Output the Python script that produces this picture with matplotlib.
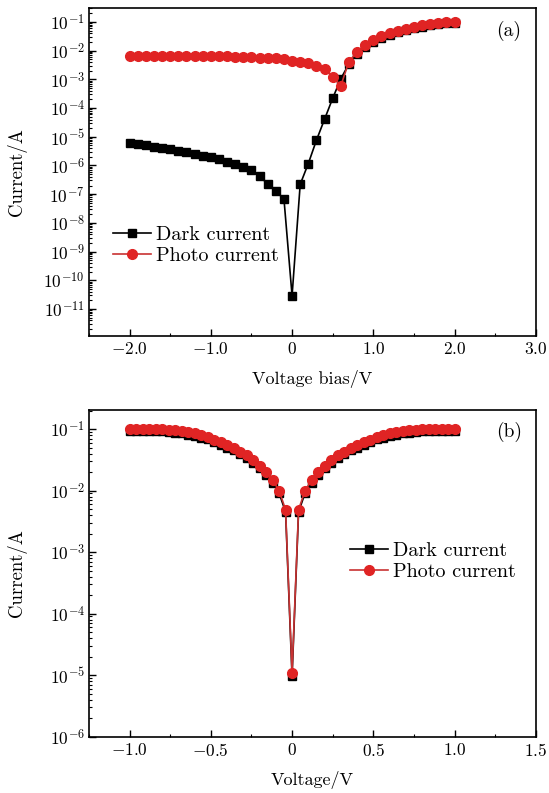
# I-V curves of the photodetector: (a) one device, (b) another device, log current
import numpy as np
import matplotlib
matplotlib.use('Agg')
import matplotlib.pyplot as plt
from matplotlib.ticker import FixedLocator, FixedFormatter, LogLocator, MultipleLocator, NullFormatter, FuncFormatter

plt.rcParams['font.family'] = 'serif'
plt.rcParams['font.serif'] = ['cmr10', 'DejaVu Serif']
plt.rcParams['mathtext.fontset'] = 'cm'
plt.rcParams['axes.formatter.use_mathtext'] = True

# ---- panel (a) data ----
volt_a = [-2.0, -1.9, -1.8, -1.7, -1.6, -1.5, -1.4, -1.3, -1.2, -1.1, -1.0,
          -0.9, -0.8, -0.7, -0.6, -0.5, -0.4, -0.3, -0.2, -0.1, 0.0,
          0.1, 0.2, 0.3, 0.4, 0.5, 0.6, 0.7, 0.8, 0.9, 1.0,
          1.1, 1.2, 1.3, 1.4, 1.5, 1.6, 1.7, 1.8, 1.9, 2.0]
dark_a = [6.17e-6, 5.62e-6, 5.13e-6, 4.57e-6, 4.07e-6, 3.63e-6, 3.24e-6, 2.88e-6, 2.51e-6, 2.19e-6, 1.91e-6,
          1.62e-6, 1.35e-6, 1.12e-6, 8.9e-7, 6.8e-7, 4.2e-7, 2.3e-7, 1.26e-7, 6.9e-8, 2.9e-11,
          2.2e-7, 1.17e-6, 7.6e-6, 4.1e-5, 2.2e-4, 1.05e-3, 3.5e-3, 7.6e-3, 1.32e-2, 2.04e-2,
          2.82e-2, 3.55e-2, 4.37e-2, 5.25e-2, 6.03e-2, 6.92e-2, 7.76e-2, 8.51e-2, 9.12e-2, 9.55e-2]
photo_a = [6.76e-3, 6.76e-3, 6.76e-3, 6.76e-3, 6.61e-3, 6.61e-3, 6.61e-3, 6.61e-3, 6.46e-3, 6.46e-3, 6.46e-3,
           6.31e-3, 6.31e-3, 6.17e-3, 6.03e-3, 5.89e-3, 5.75e-3, 5.62e-3, 5.37e-3, 5.01e-3, 4.47e-3,
           4.17e-3, 3.63e-3, 2.88e-3, 2.24e-3, 1.26e-3, 6.0e-4, 4.17e-3, 9.1e-3, 1.62e-2, 2.34e-2,
           3.24e-2, 4.07e-2, 5.01e-2, 5.89e-2, 6.76e-2, 7.59e-2, 8.51e-2, 9.12e-2, 9.77e-2, 0.1]

# ---- panel (b) data ----
volt_b = [-1.0, -0.96, -0.92, -0.88, -0.84, -0.8, -0.76, -0.72, -0.68, -0.64, -0.6, -0.56, -0.52,
          -0.48, -0.44, -0.4, -0.36, -0.32, -0.28, -0.24, -0.2, -0.16, -0.12, -0.08, -0.04, 0.0,
          0.04, 0.08, 0.12, 0.16, 0.2, 0.24, 0.28, 0.32, 0.36, 0.4, 0.44, 0.48,
          0.52, 0.56, 0.6, 0.64, 0.68, 0.72, 0.76, 0.8, 0.84, 0.88, 0.92, 0.96, 1.0]
dark_b = [9.3e-2, 9.3e-2, 9.3e-2, 9.3e-2, 9.3e-2, 9.3e-2, 8.9e-2, 8.7e-2, 8.5e-2, 8.1e-2, 7.8e-2, 7.2e-2, 6.8e-2,
          6.2e-2, 5.6e-2, 5.0e-2, 4.5e-2, 3.9e-2, 3.4e-2, 2.8e-2, 2.3e-2, 1.82e-2, 1.35e-2, 9.1e-3, 4.5e-3, 9.6e-6,
          4.5e-3, 9.1e-3, 1.35e-2, 1.82e-2, 2.3e-2, 2.8e-2, 3.4e-2, 3.9e-2, 4.5e-2, 5.0e-2, 5.6e-2, 6.2e-2,
          6.8e-2, 7.2e-2, 7.8e-2, 8.1e-2, 8.5e-2, 8.7e-2, 8.9e-2, 9.3e-2, 9.3e-2, 9.3e-2, 9.3e-2, 9.3e-2, 9.3e-2]
photo_b = [0.1, 0.1, 0.1, 0.1, 0.1, 0.1, 9.77e-2, 9.55e-2, 9.33e-2, 8.91e-2, 8.51e-2, 7.94e-2, 7.41e-2,
           6.76e-2, 6.17e-2, 5.5e-2, 4.9e-2, 4.27e-2, 3.72e-2, 3.09e-2, 2.51e-2, 2.0e-2, 1.48e-2, 1.0e-2, 4.9e-3, 1.1e-5,
           4.9e-3, 1.0e-2, 1.48e-2, 2.0e-2, 2.51e-2, 3.09e-2, 3.72e-2, 4.27e-2, 4.9e-2, 5.5e-2, 6.17e-2, 6.76e-2,
           7.41e-2, 7.94e-2, 8.51e-2, 8.91e-2, 9.33e-2, 9.55e-2, 9.77e-2, 0.1, 0.1, 0.1, 0.1, 0.1, 0.1]

xticks_a = [-2.0, -1.0, 0.0, 1.0, 2.0, 3.0]
xlabels_a = [r'$-2.0$', r'$-1.0$', r'$0$', r'$1.0$', r'$2.0$', r'$3.0$']
xticks_b = [-1.0, -0.5, 0.0, 0.5, 1.0, 1.5]
xlabels_b = [r'$-1.0$', r'$-0.5$', r'$0$', r'$0.5$', r'$1.0$', r'$1.5$']

RED = '#e02424'
RED_LINE = '#c83232'


def style_axis(ax, xticks, xlabels, xminor):
    ax.set_yscale('log')
    ax.xaxis.set_major_locator(FixedLocator(xticks))
    ax.xaxis.set_major_formatter(FixedFormatter(xlabels))
    ax.xaxis.set_minor_locator(MultipleLocator(xminor))
    ax.yaxis.set_major_locator(LogLocator(base=10, numticks=30))
    ax.yaxis.set_major_formatter(FuncFormatter(lambda v, p: r'$10^{%d}$' % round(np.log10(v))))
    ax.yaxis.set_minor_locator(LogLocator(base=10, subs=np.arange(2, 10), numticks=100))
    ax.yaxis.set_minor_formatter(NullFormatter())
    ax.tick_params(which='both', direction='in', top=False, right=False, labelsize=12.5)
    ax.tick_params(which='major', length=5, width=1.0)
    ax.tick_params(which='minor', length=2.5, width=0.8)
    ax.tick_params(axis='y', pad=3)
    for s in ax.spines.values():
        s.set_linewidth(1.2)
    ax.yaxis.set_label_coords(-0.139, 0.5)


def add_legend(ax, x, y):
    ax.legend(loc='center left', bbox_to_anchor=(x, y), frameon=False, fontsize=14.5,
              handlelength=1.9, handletextpad=0.25, labelspacing=0.12, borderpad=0,
              borderaxespad=0)


fig = plt.figure(figsize=(5.49, 7.93), dpi=100)
ax1 = fig.add_axes([0.162, 0.576, 0.814, 0.414])
ax2 = fig.add_axes([0.162, 0.071, 0.814, 0.412])

# (a)
ax1.plot(volt_a, dark_a, '-s', color='black', lw=1.2, ms=6, label='Dark current')
ax1.plot(volt_a, photo_a, '-o', color=RED_LINE, mfc=RED, mec=RED, lw=1.2, ms=7, label='Photo current')
style_axis(ax1, xticks_a, xlabels_a, 0.5)
ax1.set_xlim(-2.5, 3.0)
ax1.set_ylim(10 ** -11.95, 10 ** -0.51)
ax1.set_xlabel('Voltage bias/V', fontsize=13, labelpad=9)
ax1.set_ylabel('Current/A', fontsize=13.5)
ax1.text(0.94, 0.93, '(a)', transform=ax1.transAxes, fontsize=14, ha='center', va='center')
add_legend(ax1, 0.054, 0.277)

# (b)
ax2.plot(volt_b, dark_b, '-s', color='black', lw=1.2, ms=6, label='Dark current')
ax2.plot(volt_b, photo_b, '-o', color=RED_LINE, mfc=RED, mec=RED, lw=1.2, ms=7, label='Photo current')
style_axis(ax2, xticks_b, xlabels_b, 0.25)
ax2.set_xlim(-1.25, 1.5)
ax2.set_ylim(1e-6, 10 ** -0.69)
ax2.set_xlabel('Voltage/V', fontsize=13, labelpad=9)
ax2.set_ylabel('Current/A', fontsize=13.5)
ax2.text(0.94, 0.933, '(b)', transform=ax2.transAxes, fontsize=14, ha='center', va='center')
add_legend(ax2, 0.584, 0.537)

fig.savefig('out.png', dpi=100)
